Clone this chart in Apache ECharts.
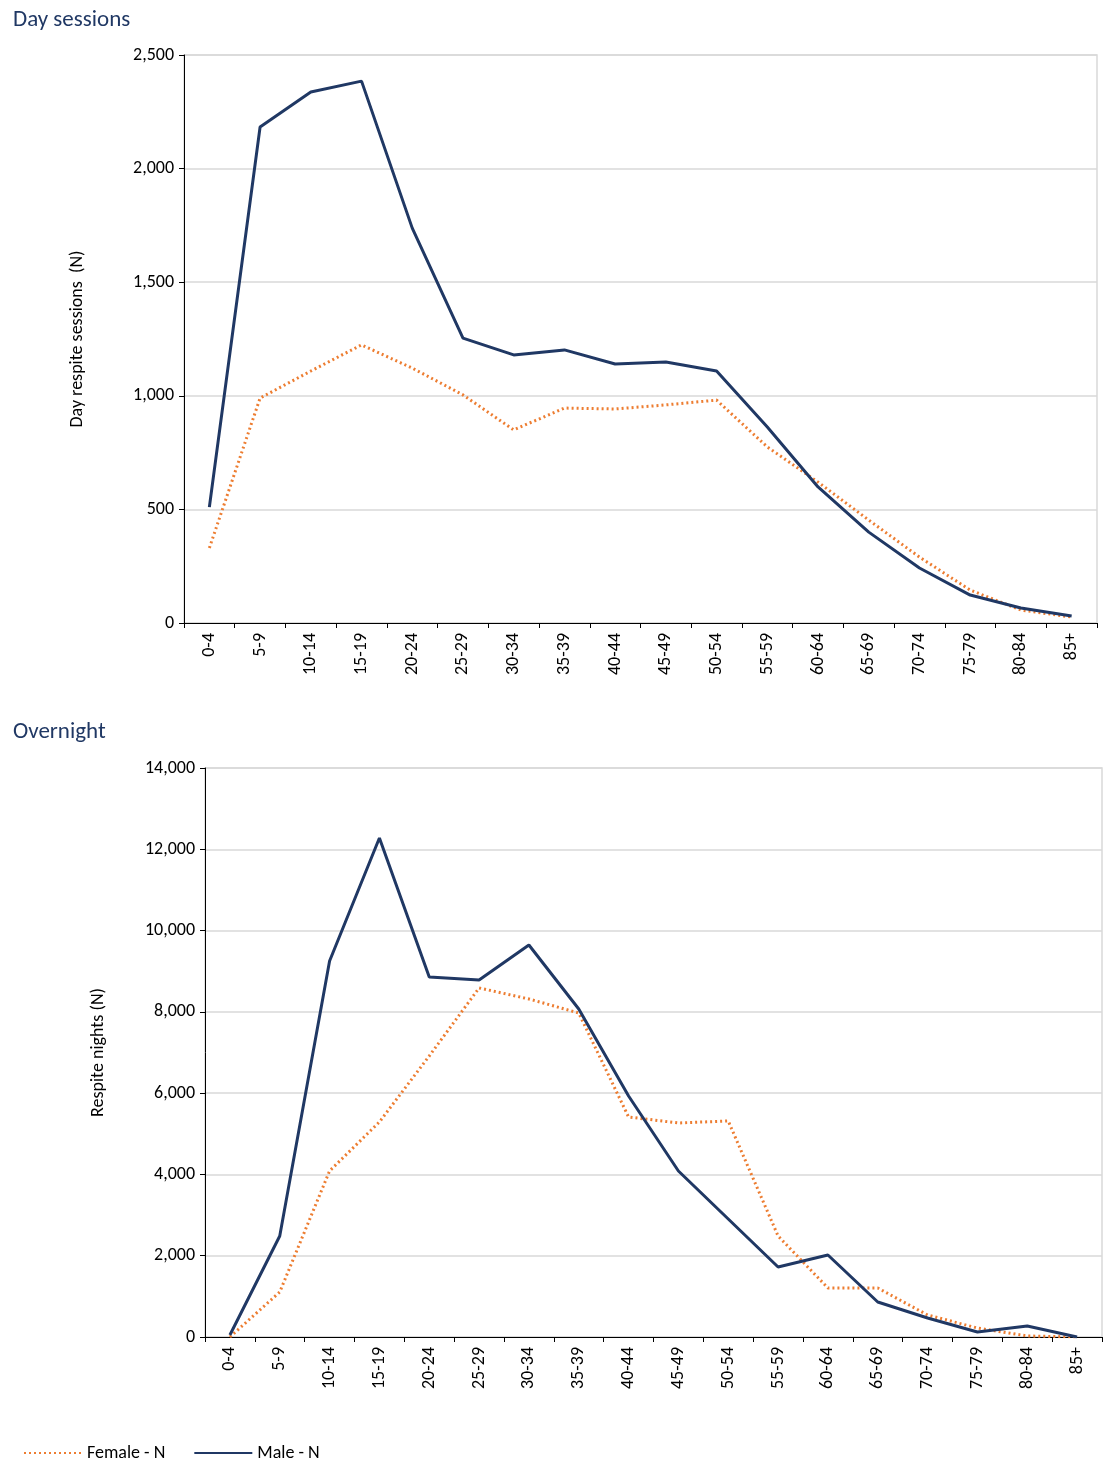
<!DOCTYPE html>
<html>
<head>
<meta charset="utf-8">
<script src="https://cdn.jsdelivr.net/npm/echarts@6/dist/echarts.min.js"></script>
<style>
  body { margin: 0; background: #fff; }
  #chart { width: 1104px; height: 1459px; }
</style>
</head>
<body>
<div id="chart"></div>
<script>
// age groups
var ageGroups = ['0-4','5-9','10-14','15-19','20-24','25-29','30-34','35-39','40-44','45-49','50-54','55-59','60-64','65-69','70-74','75-79','80-84','85+'];

// day respite sessions
var dayMale = [510, 2183, 2337, 2385, 1738, 1254, 1180, 1202, 1140, 1149, 1109, 863, 599, 400, 242, 123, 66, 31];
var dayFemale = [330, 990, 1109, 1224, 1122, 1004, 850, 946, 942, 960, 981, 775, 620, 453, 290, 145, 57, 26];

// overnight respite nights
var nightMale = [50, 2485, 9252, 12278, 8858, 8784, 9646, 8071, 5930, 4085, 2904, 1722, 2018, 861, 468, 123, 271, 0];
var nightFemale = [0, 1107, 4085, 5290, 6914, 8588, 8317, 7972, 5413, 5266, 5315, 2485, 1206, 1206, 541, 221, 25, 0];

var navy = '#203864';
var orange = '#ED7D31';
var font = 'Calibri, Carlito, Lato, sans-serif';

function xAxis(idx) {
    return {
        type: 'category', gridIndex: idx, data: ageGroups,
        axisLine: { lineStyle: { color: '#000', width: 1 } },
        axisTick: { show: true, interval: 0, length: 5, lineStyle: { color: '#000' } },
        axisLabel: { rotate: 90, interval: 0, color: '#000', fontSize: 18, fontFamily: font, margin: 10 }
    };
}
function yAxis(idx, max, interval, name) {
    return {
        type: 'value', gridIndex: idx, min: 0, max: max, interval: interval,
        name: name, nameLocation: 'middle', nameGap: 98, nameRotate: 90,
        nameTextStyle: { color: '#000', fontSize: 18, fontFamily: font },
        axisLine: { show: true, lineStyle: { color: '#000' } },
        axisTick: { show: true, length: 5, lineStyle: { color: '#000' } },
        axisLabel: { color: '#000', fontSize: 18, fontFamily: font, margin: 10,
            formatter: function (v) { return v.toLocaleString('en-US'); } },
        splitLine: { lineStyle: { color: '#d9d9d9', width: 1.5 } }
    };
}
function line(name, data, idx, color, dotted) {
    return {
        name: name, type: 'line', xAxisIndex: idx, yAxisIndex: idx, data: data,
        symbol: 'none', lineStyle: { color: color, width: 3, type: dotted ? [2, 3] : 'solid' },
        itemStyle: { color: color }
    };
}

var chart = echarts.init(document.getElementById('chart'));
chart.setOption({
    animation: false,
    title: [
        { text: 'Day sessions', left: 8, top: 4, textStyle: { color: navy, fontSize: 23, fontWeight: 'normal', fontFamily: font } },
        { text: 'Overnight', left: 8, top: 716, textStyle: { color: navy, fontSize: 23, fontWeight: 'normal', fontFamily: font } }
    ],
    legend: {
        left: 18, top: 1439, itemWidth: 58, itemHeight: 14, itemGap: 28,
        itemStyle: { opacity: 0 },
        textStyle: { color: '#000', fontSize: 18, fontFamily: font },
        data: ['Female - N', 'Male - N']
    },
    grid: [
        { left: 184, top: 55, width: 913, height: 568, show: true, borderColor: '#d9d9d9', borderWidth: 1.5 },
        { left: 205, top: 768, width: 897, height: 569, show: true, borderColor: '#d9d9d9', borderWidth: 1.5 }
    ],
    xAxis: [xAxis(0), xAxis(1)],
    yAxis: [
        yAxis(0, 2500, 500, 'Day respite sessions  (N)'),
        yAxis(1, 14000, 2000, 'Respite nights (N)')
    ],
    series: [
        line('Female - N', dayFemale, 0, orange, true),
        line('Male - N', dayMale, 0, navy, false),
        line('Female - N', nightFemale, 1, orange, true),
        line('Male - N', nightMale, 1, navy, false)
    ]
});
</script>
</body>
</html>
